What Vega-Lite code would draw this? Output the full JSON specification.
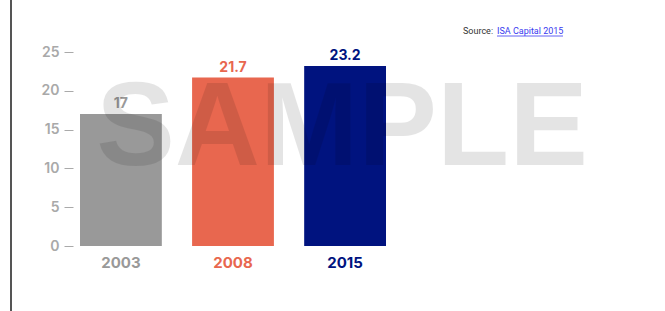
{
  "$schema": "https://vega.github.io/schema/vega-lite/v6.json",
  "autosize": "none",
  "width": 306,
  "height": 194,
  "padding": {"left": 80, "top": 52, "right": 279, "bottom": 65},
  "background": "white",
  "config": {"view": {"stroke": null}, "font": "Inter"},
  "layer": [
    {
      "data": {"name": "bars", "values": [
        {"year": "2003", "value": 17, "label": "17"},
        {"year": "2008", "value": 21.7, "label": "21.7"},
        {"year": "2015", "value": 23.2, "label": "23.2"}
      ]},
      "encoding": {
        "x": {"field": "year", "type": "nominal", "sort": null,
          "scale": {"paddingInner": 0.27, "paddingOuter": 0},
          "axis": {"title": null, "labelAngle": 0, "domain": false, "ticks": false,
            "labelPadding": 9, "labelFontSize": 15, "labelFontWeight": "bold", "labelFont": "Inter",
            "labelColor": {"condition": [
              {"test": "datum.value === '2003'", "value": "#999999"},
              {"test": "datum.value === '2008'", "value": "#e8674f"}
            ], "value": "#00137f"}}},
        "y": {"field": "value", "type": "quantitative",
          "scale": {"domain": [0, 25], "nice": false},
          "axis": {"title": null, "values": [0, 5, 10, 15, 20, 25], "domain": false, "grid": false,
            "offset": 7, "tickSize": 9, "tickColor": "#aaaaaa", "tickWidth": 1,
            "labelPadding": 5, "labelFontSize": 14, "labelFontWeight": 600, "labelColor": "#a9a9a9"}},
        "color": {"field": "year", "type": "nominal", "legend": null,
          "scale": {"domain": ["2003", "2008", "2015"], "range": ["#999999", "#e8674f", "#00137f"]}}
      },
      "layer": [
        {"mark": {"type": "bar"}},
        {
          "mark": {"type": "text", "baseline": "alphabetic", "dy": -6, "fontSize": 14, "fontWeight": "bold", "font": "Inter"},
          "encoding": {"text": {"field": "label"}}
        }
      ]
    },
    {
      "data": {"values": [{"t": "SAMPLE"}]},
      "mark": {"type": "text", "baseline": "middle", "align": "center",
        "fontSize": 118, "fontWeight": "bold", "font": "Liberation Sans", "fill": "#000000", "opacity": 0.1},
      "encoding": {"text": {"field": "t"}, "x": {"value": 262}, "y": {"value": 78}}
    },
    {
      "data": {"values": [{"t": "Source:"}]},
      "mark": {"type": "text", "baseline": "middle", "align": "left",
        "fontSize": 9, "font": "Roboto", "fill": "#333333"},
      "encoding": {"text": {"field": "t"}, "x": {"value": 383}, "y": {"value": -21}}
    },
    {
      "data": {"values": [{"t": "ISA Capital 2015"}]},
      "mark": {"type": "text", "baseline": "middle", "align": "left",
        "fontSize": 9, "font": "Roboto", "fill": "#3a3af0"},
      "encoding": {"text": {"field": "t"}, "x": {"value": 417}, "y": {"value": -21}}
    },
    {
      "data": {"values": [{"t": 1}]},
      "mark": {"type": "rule", "stroke": "#3a3af0", "strokeWidth": 0.8},
      "encoding": {"x": {"value": 417}, "x2": {"value": 483}, "y": {"value": -16}, "y2": {"value": -16}}
    },
    {
      "data": {"values": [{"t": 1}]},
      "mark": {"type": "rule", "stroke": "#555555", "strokeWidth": 2},
      "encoding": {"x": {"value": -69}, "x2": {"value": -69}, "y": {"value": -52}, "y2": {"value": 259}}
    }
  ]
}
